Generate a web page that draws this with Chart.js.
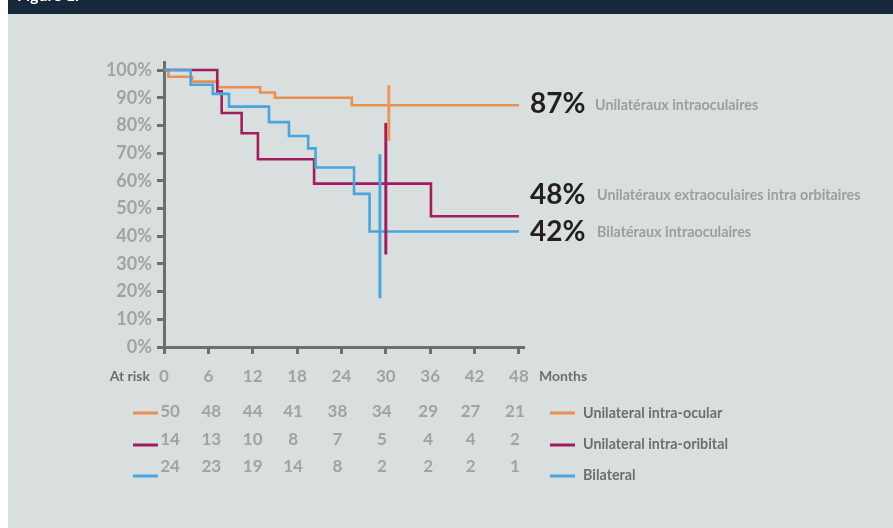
<!DOCTYPE html>
<html>
<head>
<meta charset="utf-8">
<script src="https://cdn.jsdelivr.net/npm/chart.js@4.4.1/dist/chart.umd.min.js"></script>
<style>
  html, body { margin: 0; padding: 0; background: #ffffff; }
  #wrap { position: absolute; left: 0; top: 0; width: 893px; height: 528px; }
</style>
</head>
<body>
<div id="wrap"><canvas id="c" width="893" height="528"></canvas></div>
<script>
// ---------- data ----------
const monthTicks = [0, 6, 12, 18, 24, 30, 36, 42, 48];
const percentTicks = [0, 10, 20, 30, 40, 50, 60, 70, 80, 90, 100];

const seriesNames = ['Unilateral intra-ocular', 'Unilateral intra-oribital', 'Bilateral'];

const intraOcularT = [0, 0.6, 3.8, 7.3, 13.0, 15.0, 25.4, 48];
const intraOcularS = [100, 97.6, 95.8, 93.8, 91.9, 90.0, 87.3, 87.3];

const intraOrbitalT = [0, 7.2, 7.8, 10.5, 12.7, 20.3, 36.1, 48];
const intraOrbitalS = [100, 92.3, 84.5, 77.2, 67.8, 59.0, 47.2, 47.2];

const bilateralT = [0, 3.6, 6.6, 8.8, 14.2, 16.9, 19.5, 20.5, 25.7, 27.8, 48];
const bilateralS = [100, 94.7, 91.4, 86.8, 81.2, 76.2, 71.7, 64.8, 55.3, 41.7, 41.7];

// confidence bars [month, low, high]
const intraOcularCI = [30.4, 74.5, 94.5];
const intraOrbitalCI = [30.0, 33.4, 80.9];
const bilateralCI = [29.2, 17.6, 69.6];

const atRiskIntraOcular = [50, 48, 44, 41, 38, 34, 29, 27, 21];
const atRiskIntraOrbital = [14, 13, 10, 8, 7, 5, 4, 4, 2];
const atRiskBilateral = [24, 23, 19, 14, 8, 2, 2, 2, 1];

const endPercents = ['87%', '48%', '42%'];
const endNames = ['Unilatéraux intraoculaires', 'Unilatéraux extraoculaires intra orbitaires', 'Bilatéraux intraoculaires'];

// ---------- styles / layout ----------
const colors = ['#e9904f', '#a31d5e', '#47a6dc'];
const ciColors = ['#eb9658', '#a31d5e', '#47a6dc'];
const axisColor = '#6d6e70';
const tickTextColor = '#a1a2a3';
const darkText = '#6d6e70';
const endLabelY = [87.7, 55.0, 41.6];      // value units for label anchor
const atRiskShift = [6, 3, 0, -4, -4, -4, -2, -4, -4]; // px
const atRiskRowsY = [412, 440, 467];
const atRiskLineY = [413, 445, 476];
const legendY = [413, 444, 475];
const legendLineY = [413, 445, 476];
const FONT = 'Lato, "Open Sans", sans-serif';

function pts(t, s) { return t.map((v, i) => ({ x: v, y: s[i] })); }
function ci(a) { return [{ x: a[0], y: a[1] }, { x: a[0], y: a[2] }]; }

const curveData = [pts(intraOcularT, intraOcularS), pts(intraOrbitalT, intraOrbitalS), pts(bilateralT, bilateralS)];
const ciData = [ci(intraOcularCI), ci(intraOrbitalCI), ci(bilateralCI)];
const atRisk = [atRiskIntraOcular, atRiskIntraOrbital, atRiskBilateral];

const datasets = [];
curveData.forEach((d, i) => datasets.push({
  label: seriesNames[i], data: d, borderColor: colors[i], borderWidth: 2.6,
  stepped: true, pointRadius: 0, fill: false, order: 3 - i, borderCapStyle: 'butt'
}));
ciData.forEach((d, i) => datasets.push({
  label: seriesNames[i] + ' CI', data: d, borderColor: ciColors[i], borderWidth: 3,
  pointRadius: 0, fill: false, order: 0, borderCapStyle: 'butt'
}));

const bgPlugin = {
  id: 'bg',
  beforeDraw(chart) {
    const ctx = chart.ctx;
    ctx.save();
    ctx.fillStyle = '#ffffff';
    ctx.fillRect(0, 0, 893, 528);
    ctx.fillStyle = '#d9dfdf';
    ctx.fillRect(8, 14, 885, 514);
    ctx.fillStyle = '#17283a';
    ctx.fillRect(8, 0, 885, 14);
    ctx.fillStyle = '#ffffff';
    ctx.font = 'bold 16px ' + FONT;
    ctx.textBaseline = 'alphabetic';
    ctx.textAlign = 'left';
    ctx.fillText('Figure 1.', 17, 1);
    ctx.restore();
  }
};

const textPlugin = {
  id: 'texts',
  afterDraw(chart) {
    const ctx = chart.ctx;
    const xs = chart.scales.x, ys = chart.scales.y;
    ctx.save();
    ctx.textBaseline = 'middle';
    // end labels
    endPercents.forEach((p, i) => {
      const y = ys.getPixelForValue(endLabelY[i]);
      ctx.font = 'bold 28px ' + FONT;
      ctx.fillStyle = '#231f20';
      ctx.textAlign = 'left';
      ctx.fillText(p, 530, y);
      ctx.font = 'bold 14.3px ' + FONT;
      ctx.fillStyle = '#9c9d9f';
      ctx.fillText(endNames[i], i === 0 ? 595 : 597, y + 1);
    });
    // At risk / Months
    const axisLabelY = 376;
    ctx.font = 'bold 14px ' + FONT;
    ctx.fillStyle = darkText;
    ctx.textAlign = 'right';
    ctx.fillText('At risk', 150, axisLabelY);
    ctx.textAlign = 'left';
    ctx.fillText('Months', 539, axisLabelY);
    // at risk rows
    ctx.font = 'bold 17px ' + FONT;
    ctx.fillStyle = tickTextColor;
    ctx.textAlign = 'center';
    atRisk.forEach((row, r) => {
      row.forEach((n, k) => {
        const x = xs.getPixelForValue(monthTicks[k]) + atRiskShift[k];
        ctx.fillText(String(n), x, atRiskRowsY[r]);
      });
      ctx.strokeStyle = colors[r];
      ctx.lineWidth = 3;
      ctx.beginPath();
      ctx.moveTo(133, atRiskLineY[r]);
      ctx.lineTo(158, atRiskLineY[r]);
      ctx.stroke();
    });
    // legend
    ctx.font = 'bold 14.3px ' + FONT;
    ctx.textAlign = 'left';
    seriesNames.forEach((name, i) => {
      ctx.strokeStyle = colors[i];
      ctx.lineWidth = 3;
      ctx.beginPath();
      ctx.moveTo(550, legendLineY[i]);
      ctx.lineTo(575, legendLineY[i]);
      ctx.stroke();
      ctx.fillStyle = darkText;
      ctx.fillText(name, 583, legendY[i]);
    });
    ctx.restore();
  }
};

new Chart(document.getElementById('c'), {
  type: 'line',
  data: { datasets },
  options: {
    responsive: false,
    animation: false,
    devicePixelRatio: 1,
    layout: { padding: { left: 0, top: 62, right: 370, bottom: 0 } },
    plugins: { legend: { display: false }, tooltip: { enabled: false } },
    scales: {
      x: {
        type: 'linear', min: 0, max: 48.55,
        afterBuildTicks: s => { s.ticks = monthTicks.map(v => ({ value: v })); },
        afterFit: s => { s.height = 181; },
        grid: { display: true, drawOnChartArea: false, drawTicks: true, tickLength: 7, tickColor: axisColor, tickWidth: 3, lineWidth: 3, color: axisColor },
        border: { display: true, color: axisColor, width: 3 },
        ticks: { color: tickTextColor, font: { family: FONT, size: 17, weight: 'bold' }, padding: 12, maxRotation: 0, autoSkip: false }
      },
      y: {
        type: 'linear', min: 0, max: 102.9,
        afterBuildTicks: s => { s.ticks = percentTicks.map(v => ({ value: v })); },
        afterFit: s => { s.width = 164; },
        grid: { display: true, drawOnChartArea: false, drawTicks: true, tickLength: 7, tickColor: axisColor, tickWidth: 3, lineWidth: 3, color: axisColor },
        border: { display: true, color: axisColor, width: 3 },
        ticks: { color: tickTextColor, font: { family: FONT, size: 18, weight: 'bold' }, padding: 5, callback: v => v + '%', autoSkip: false }
      }
    }
  },
  plugins: [bgPlugin, textPlugin]
});
</script>
</body>
</html>
